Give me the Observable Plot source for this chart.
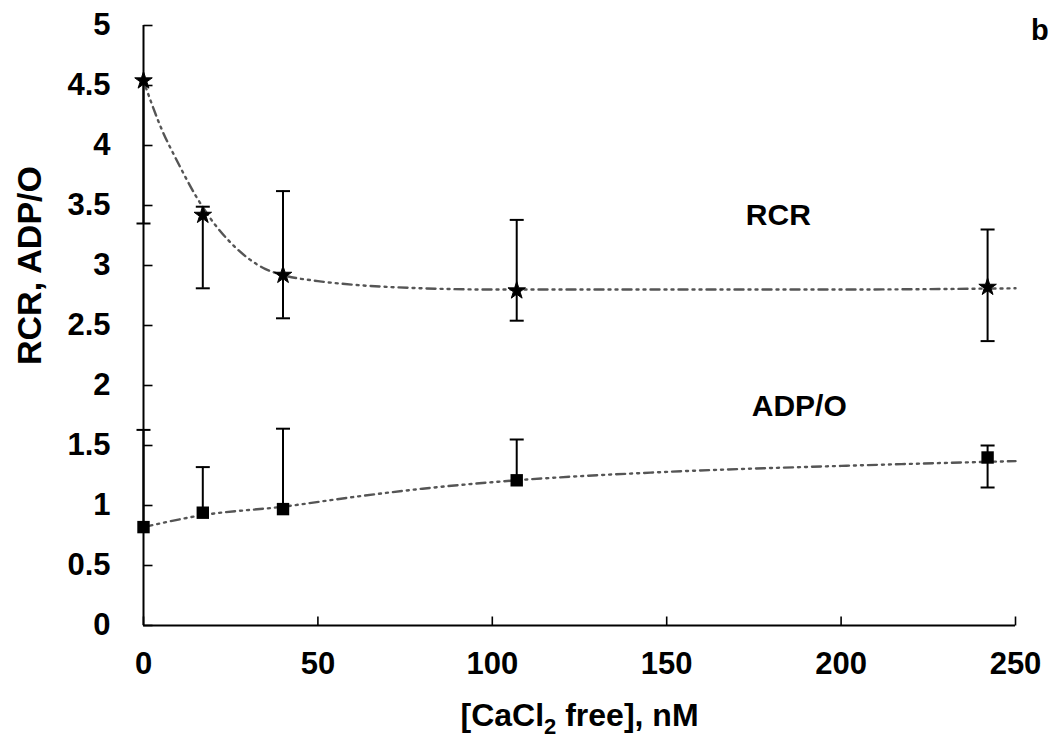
<!DOCTYPE html>
<html><head><meta charset="utf-8">
<script src="https://cdn.jsdelivr.net/npm/d3@7"></script>
<script src="https://cdn.jsdelivr.net/npm/@observablehq/plot@0.6"></script>
<style>body{margin:0;background:#fff}</style>
</head><body><div id="chart"></div>
<script>
// measured points
const conc     = [0, 17, 40, 107, 242];
const rcr      = [4.54, 3.42, 2.92, 2.79, 2.82];
const rcrLow   = [3.35, 2.81, 2.56, 2.54, 2.37];
const rcrHigh  = [4.54, 3.49, 3.62, 3.38, 3.30];
const adp      = [0.82, 0.94, 0.97, 1.21, 1.40];
const adpLow   = [0.82, 0.94, 0.97, 1.21, 1.15];
const adpHigh  = [1.63, 1.32, 1.64, 1.55, 1.50];
// fitted trend curves
const rcrFitX  = [0, 5, 10, 15, 20, 25, 30, 35, 40, 50, 60, 80, 100, 150, 200, 250];
const rcrFitY  = [4.54, 4.15, 3.85, 3.58, 3.36, 3.19, 3.06, 2.97, 2.92, 2.87, 2.84, 2.81, 2.80, 2.80, 2.80, 2.81];
const adpFitX  = [0, 17, 40, 60, 80, 107, 150, 200, 250];
const adpFitY  = [0.82, 0.92, 0.99, 1.07, 1.14, 1.21, 1.28, 1.33, 1.37];
// ticks
const xTicks = [0, 50, 100, 150, 200, 250];
const yTicks = [0, 0.5, 1, 1.5, 2, 2.5, 3, 3.5, 4, 4.5, 5];
const xLabel = "[CaCl2 free], nM";
const yLabel = "RCR, ADP/O";
const seriesNames = ["RCR", "ADP/O"];
const panel = "b";

const rcrPts = conc.map((x, i) => ({x, y: rcr[i], lo: rcrLow[i], hi: rcrHigh[i]}));
const adpPts = conc.map((x, i) => ({x, y: adp[i], lo: adpLow[i], hi: adpHigh[i]}));
const allPts = rcrPts.concat(adpPts);
const caps = [];
for (const p of allPts) {
  if (p.lo < p.y) caps.push({x: p.x, y: p.lo});
  if (p.hi > p.y) caps.push({x: p.x, y: p.hi});
}
const rcrFit = rcrFitX.map((x, i) => ({x, y: rcrFitY[i]}));
const adpFit = adpFitX.map((x, i) => ({x, y: adpFitY[i]}));

const capSym = {draw(ctx) { ctx.moveTo(-7, 0); ctx.lineTo(7, 0); }};
const tickRight = {draw(ctx) { ctx.moveTo(0, 0); ctx.lineTo(9, 0); }};
const tickUp = {draw(ctx) { ctx.moveTo(0, 0); ctx.lineTo(0, -9); }};

const font = "'Liberation Sans', Arial, sans-serif";
const dash = "9,5,2,5,2,5";

const chart = Plot.plot({
  width: 1055, height: 750,
  marginLeft: 143, marginRight: 40, marginTop: 25, marginBottom: 125,
  style: {fontFamily: font, background: "#fff", color: "#000"},
  x: {domain: [0, 250]},
  y: {domain: [0, 5]},
  marks: [
    Plot.axisY({ticks: yTicks, tickFormat: d => String(d), tickSize: 0, tickPadding: 33, fontSize: 31, fontWeight: "bold", label: null, fill: "#000"}),
    Plot.axisX({ticks: xTicks, tickFormat: d => String(d), tickSize: 0, tickPadding: 26, fontSize: 31, fontWeight: "bold", label: null, fill: "#000"}),
    Plot.dot(yTicks, {x: 0, y: d => d, symbol: tickRight, stroke: "#000", strokeWidth: 1.6, fill: "none"}),
    Plot.dot(xTicks, {x: d => d, y: 0, symbol: tickUp, stroke: "#000", strokeWidth: 1.6, fill: "none"}),
    Plot.ruleX([0], {y1: 0, y2: 5, stroke: "#000", strokeWidth: 2}),
    Plot.ruleY([0], {x1: 0, x2: 250, stroke: "#000", strokeWidth: 2}),
    Plot.line(rcrFit, {x: "x", y: "y", curve: "monotone-x", stroke: "#555", strokeWidth: 2.4, strokeDasharray: dash}),
    Plot.line(adpFit, {x: "x", y: "y", curve: "monotone-x", stroke: "#555", strokeWidth: 2.4, strokeDasharray: dash}),
    Plot.ruleX(allPts, {x: "x", y1: "lo", y2: "hi", stroke: "#000", strokeWidth: 2}),
    Plot.dot(caps, {x: "x", y: "y", symbol: capSym, stroke: "#000", strokeWidth: 2, fill: "none"}),
    Plot.dot(rcrPts, {x: "x", y: "y", symbol: "star", r: 5.5, fill: "#000", stroke: "#000", strokeWidth: 1}),
    Plot.dot(adpPts, {x: "x", y: "y", symbol: "square", r: 7, fill: "#000"}),
    Plot.text([seriesNames[0]], {x: 182, y: 3.42, text: d => d, fontSize: 30, fontWeight: "bold", fill: "#000"}),
    Plot.text([seriesNames[1]], {x: 188, y: 1.83, text: d => d, fontSize: 30, fontWeight: "bold", fill: "#000"}),
    Plot.text([panel], {x: 257, y: 4.96, text: d => d, fontSize: 29, fontWeight: "bold", fill: "#000"}),
    Plot.text([yLabel], {frameAnchor: "left", textAnchor: "middle", dx: -113, dy: -60, rotate: -90, text: d => d, fontSize: 34, fontWeight: "bold", fill: "#000"}),
    Plot.text([xLabel], {frameAnchor: "bottom", textAnchor: "middle", dy: 100, text: d => d, fontSize: 32, fontWeight: "bold", fill: "#000"})
  ]
});
document.getElementById("chart").append(chart);
chart.querySelectorAll("text").forEach(t => {
  if (t.textContent === xLabel) {
    t.innerHTML = '[CaCl<tspan dy="8" font-size="22">2</tspan><tspan dy="-8"> free], nM</tspan>';
  }
});
</script>
</body></html>
